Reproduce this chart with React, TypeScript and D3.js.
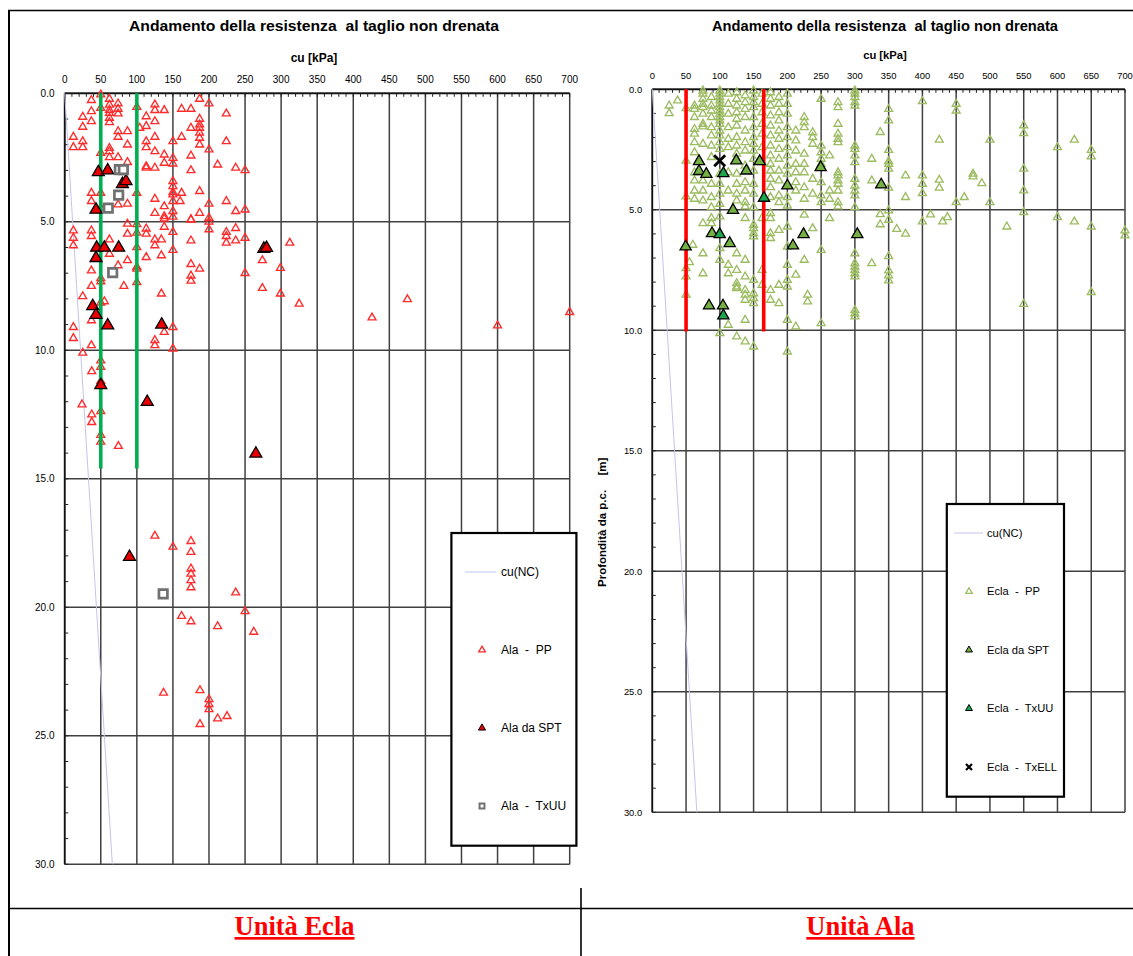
import React from 'react';
import * as d3 from 'd3';

type Pt = [number, number]; // [cu kPa, depth m]

// ---------- axis values ----------
const cuTicks = [0, 50, 100, 150, 200, 250, 300, 350, 400, 450, 500, 550, 600, 650, 700];
const depthTicks = [0, 5, 10, 15, 20, 25, 30];
const depthTickLabels = ['0.0', '5.0', '10.0', '15.0', '20.0', '25.0', '30.0'];

// ---------- common series ----------
const cuNC: Pt[] = [[0, 0], [66, 30]];

// ---------- left chart (Ala) ----------
const alaPP: Pt[] = [
  [12, 1.7], [12, 2.1], [25, 0.92], [25, 1.31], [25, 1.87], [25, 2.1],
  [37, 0.27], [37, 0.7], [37, 1.09], [37, 3.88], [37, 4.2],
  [50, 0.05], [50, 0.57], [50, 2.32], [50, 3.88], [50, 4.46],
  [62, 0.22], [62, 0.45], [62, 0.65], [62, 0.77], [62, 0.96], [62, 1.13], [62, 2.13], [62, 2.26], [62, 2.49],
  [74, 0.4], [74, 0.61], [74, 0.79], [74, 1.48], [74, 1.7], [74, 2.49], [74, 4.33],
  [87, 1.48], [87, 2.0], [87, 2.68], [87, 4.3],
  [100, 0.53], [100, 3.88], [104, 1.35],
  [113, 0.9], [113, 1.28], [113, 1.87], [113, 2.1], [113, 2.84], [113, 2.9],
  [125, 0.44], [125, 0.66], [125, 1.09], [125, 1.7], [125, 2.26], [125, 2.9], [125, 4.11], [125, 4.66],
  [138, 0.66], [138, 2.39], [138, 2.71], [138, 4.4], [138, 4.79],
  [150, 1.87], [150, 2.52], [150, 2.74], [150, 3.42], [150, 3.62], [150, 3.85], [150, 3.94], [150, 4.2], [150, 4.59], [150, 4.81],
  [162, 0.61], [162, 1.7], [162, 3.88], [160, 4.2],
  [175, 0.61], [175, 1.35], [175, 2.43], [175, 3.0], [175, 4.92],
  [187, 0.22], [187, 1.0], [187, 1.22], [187, 1.35], [187, 1.54], [187, 1.74], [187, 2.0], [187, 3.81], [187, 4.66],
  [200, 0.4], [200, 2.19], [200, 4.3], [200, 4.85], [200, 5.0],
  [212, 2.78], [224, 0.79], [224, 1.87], [224, 4.2], [237, 2.9], [237, 4.59], [250, 3.0], [250, 4.53],
  [12, 5.34], [12, 5.63], [12, 5.92], [12, 9.1], [12, 9.53], [25, 7.9], [25, 10.1],
  [37, 5.34], [37, 5.56], [37, 6.9], [37, 7.5], [37, 8.84], [37, 9.81],
  [50, 7.2], [50, 7.32], [50, 8.15], [50, 10.4], [55, 8.1], [62, 5.69], [62, 6.25], [74, 6.7], [82, 7.5],
  [87, 5.08], [87, 5.47], [87, 6.5],
  [100, 5.1], [100, 5.43], [100, 5.99], [100, 6.76], [100, 6.83], [100, 7.35],
  [113, 5.27], [113, 5.47], [113, 6.38], [125, 5.69], [125, 5.92], [125, 9.61], [125, 9.81],
  [134, 5.69], [134, 6.31], [134, 7.8], [138, 4.88], [138, 5.2], [138, 9.29],
  [150, 5.4], [150, 6.1], [150, 9.1], [150, 9.94],
  [175, 4.91], [175, 5.73], [175, 6.65], [175, 7.1], [175, 7.3], [187, 6.83], [200, 5.3],
  [224, 5.4], [224, 5.56], [224, 5.82], [237, 5.25], [237, 5.73], [250, 5.63], [250, 7.0],
  [274, 6.5], [274, 7.58], [299, 6.8], [299, 7.8], [312, 5.82], [325, 8.19],
  [426, 8.73], [475, 8.02], [600, 9.04], [700, 8.52],
  [37.5, 10.82], [50, 10.65], [50, 11.2], [24, 12.11], [37.5, 12.5], [37.5, 12.8], [50, 12.37], [50, 13.3], [50, 13.56], [74.4, 13.73],
  [125, 17.22], [150, 17.65], [175, 17.43], [175, 17.85], [175, 18.5], [175, 18.7], [175, 18.95], [175, 19.23],
  [237, 19.43], [250, 20.16], [162, 20.34], [175, 20.55], [212, 20.74], [262, 20.96],
  [137, 23.33], [187.5, 23.23], [200, 23.58], [200, 23.77], [200, 23.97], [212, 24.33], [225, 24.24], [187.5, 24.55],
];
const alaSPT: Pt[] = [
  [46.6, 3.07], [59.6, 3.0], [80, 3.53], [85, 3.42], [43.4, 4.53],
  [44.3, 6.01], [55, 6.01], [74.8, 6.01], [43.4, 6.41], [38.8, 8.28], [43.4, 8.62], [59.6, 9.03], [134.4, 9.0],
  [276, 6.05], [279.8, 6.02], [50, 11.36], [114.4, 12.01], [265, 14.02], [89.8, 18.04],
];
const alaTxUU: Pt[] = [[75.7, 2.97], [81.3, 2.97], [74.8, 3.96], [60.4, 4.47], [66.5, 6.98], [136.5, 19.48]];
const alaLimits = [50, 100];
const alaLimitDepth = 14.6;

// ---------- right chart (Ecla) ----------
// each entry: [cu kPa, depths read at that cu]
const eclaPPCols: [number, number[]][] = [
  [25, [0.68, 1.0]],
  [37.5, [0.47]],
  [50, [0.79, 2.97, 4.45, 6.46, 7.43, 7.77, 8.53]],
  [55, [7.18]],
  [60, [6.46]],
  [62.5, [0.68, 0.82, 1.16, 1.65, 1.85, 2.2, 2.62, 3.45, 3.79, 4.21, 4.55]],
  [75, [0.06, 0.19, 0.4, 0.61, 0.75, 1.02, 1.44, 1.55, 2.27, 3.79, 4.21, 4.62, 5.56, 6.81, 7.64]],
  [87.5, [0.33, 0.68, 0.89, 1.16, 1.58, 1.92, 2.34, 2.82, 3.93, 4.48, 4.9, 5.35, 5.56]],
  [100, [0.06, 0.19, 0.33, 0.47, 0.61, 0.75, 0.89, 1.02, 1.16, 1.3, 1.44, 1.72, 1.92, 2.2, 2.48, 3.51, 3.93, 4.34, 4.76, 5.28, 6.6, 7.08, 10.12]],
  [112.5, [0.19, 0.61, 1.02, 1.58, 2.06, 2.41, 3.45, 4.21, 7.29, 7.64, 9.78]],
  [125, [0.13, 0.4, 0.68, 0.96, 1.23, 1.51, 1.99, 2.34, 2.68, 3.51, 3.93, 4.34, 4.62, 6.81, 7.5, 8.05, 8.19, 8.26, 10.26]],
  [137.5, [0.26, 0.54, 0.82, 1.16, 1.72, 2.2, 2.55, 3.17, 3.86, 4.21, 4.69, 4.87, 5.35, 7.08, 7.77, 8.33, 8.53, 8.74, 9.57, 10.47]],
  [150, [0.06, 0.33, 0.54, 0.75, 1.16, 1.58, 1.99, 2.27, 2.55, 2.89, 3.38, 3.93, 4.34, 4.9, 5.63, 5.77, 5.98, 6.11, 7.91, 8.47, 8.67, 8.88, 10.68]],
  [162.5, [0.19, 0.61, 0.96, 1.44, 1.85, 2.41, 3.03, 5.35, 7.5, 8.12]],
  [175, [0.13, 0.4, 0.68, 1.09, 1.51, 1.92, 2.34, 2.75, 3.1, 3.38, 3.72, 4.07, 4.48, 5.15, 5.35, 5.98, 6.18, 8.33, 8.74]],
  [187.5, [0.33, 0.61, 0.96, 1.3, 1.72, 2.06, 2.48, 2.89, 3.38, 3.79, 4.41, 4.69, 5.84, 8.12, 8.88]],
  [200, [0.19, 0.61, 1.02, 1.58, 1.99, 2.41, 2.75, 3.17, 3.51, 4.48, 4.83, 5.7, 6.53, 7.29, 7.91, 8.19, 9.57, 10.89]],
  [212.5, [1.72, 2.13, 2.55, 3.1, 3.45, 3.86, 4.21, 7.7, 9.85]],
  [225, [1.16, 1.37, 1.58, 2.68, 3.1, 3.45, 4.07, 4.55, 5.21, 7.08]],
  [230, [8.53, 8.81]],
  [237.5, [1.79, 1.99, 2.27, 3.72, 4.34, 5.77]],
  [250, [0.4, 2.34, 2.62, 2.89, 3.1, 3.86, 4.41, 4.69, 6.67, 9.71]],
  [262.5, [2.75, 4.21, 4.55, 5.35]],
  [275, [0.54, 0.75, 1.44, 1.85, 2.06, 2.2, 3.45, 3.58, 3.79, 3.93, 4.21, 4.69, 4.87]],
  [300, [0.06, 0.19, 0.33, 0.54, 0.68, 2.34, 2.48, 2.75, 3.03, 3.72, 4.0, 4.21, 4.41, 4.9, 6.81, 7.22, 7.36, 7.5, 7.64, 7.77, 9.16, 9.3, 9.43]],
  [325, [2.89, 3.79, 7.22]],
  [337.5, [1.78, 5.19, 5.61]],
  [350, [0.82, 1.3, 2.52, 2.99, 3.1, 3.3, 4.09, 5.03, 5.42, 6.93, 7.52, 7.73, 7.94]],
  [362, [5.8]],
  [375, [3.58, 4.48, 6.0]],
  [400, [0.5, 3.58, 3.93, 4.32, 5.49]],
  [412, [5.2]],
  [425, [2.1, 3.76, 4.09]],
  [430, [5.49]],
  [437, [5.31]],
  [450, [0.61, 0.89, 4.69]],
  [462, [4.48]],
  [475, [3.51, 3.62]],
  [488, [3.9]],
  [500, [2.1, 4.69]],
  [525, [5.7]],
  [550, [1.5, 1.83, 3.3, 4.2, 5.1, 8.91]],
  [600, [2.41, 5.31]],
  [625, [2.1, 5.49]],
  [650, [2.52, 2.79, 5.7, 8.42]],
  [700, [5.86, 6.07]],
];
const eclaPP: Pt[] = eclaPPCols.flatMap(([cu, ds]) => ds.map((d) => [cu, d] as Pt));
const eclaSPT: Pt[] = [
  [69.2, 2.99], [69.2, 3.4], [80, 3.52], [124.4, 2.96], [139.3, 3.38], [159, 2.99], [200, 4.0], [249.3, 3.24],
  [339, 3.96], [119.5, 5.01], [88.4, 5.98], [114.6, 6.39], [49.4, 6.53], [208.3, 6.49], [224, 6.02], [303.6, 6.02],
  [84, 8.98], [104.7, 8.98],
];
const eclaTxUU: Pt[] = [[105.2, 3.49], [165.4, 4.51], [99.8, 6.02], [105.2, 9.39]];
const eclaTxELL: Pt[] = [[99.8, 2.96]];
const eclaLimits = [50, 165];
const eclaLimitDepth = 10.05;

// ---------- drawing ----------
const FONT = "'Liberation Sans', Arial, Helvetica, sans-serif";
const tri = (size: number) => d3.symbol().type(d3.symbolTriangle).size(size)() as string;
const sq = (size: number) => d3.symbol().type(d3.symbolSquare).size(size)() as string;
const cross = (r: number) => `M${-r},${-r}L${r},${r}M${-r},${r}L${r},${-r}`;

type LegendItem = { label: string; kind: 'line' | 'pp' | 'spt' | 'txuu' | 'txell' };

interface PanelProps {
  x0: number; x1: number; y0: number; y1: number; k: number;
  titleX: number; titleW: number; cuLabelY: number;
  pp: Pt[]; ppColor: string; ppSize: number;
  spt: Pt[]; sptFill: string;
  txuu: Pt[]; txuuFill: string; txuuSquare: boolean;
  txell: Pt[];
  limits: number[]; limitDepth: number; limitColor: string;
  legend: { x: number; y: number; w: number; h: number; itemY0: number; step: number; lineX0: number; lineX1: number; symX: number; textX: number; fs: number; items: LegendItem[] };
  yTitle?: boolean;
}

function Panel(p: PanelProps) {
  const { k } = p;
  const x = d3.scaleLinear().domain([0, 700]).range([p.x0, p.x1]);
  const y = d3.scaleLinear().domain([0, 30]).range([p.y0, p.y1]);
  const line = d3.line<Pt>().x((d) => x(d[0])).y((d) => y(d[1]));
  const grid = '#404040';
  const ppPath = tri(p.ppSize);
  const sptPath = tri(62 * k * k);
  const sqPath = sq(72 * k * k);
  const L = p.legend;

  const legendSymbol = (it: LegendItem, cy: number) => {
    if (it.kind === 'line')
      return <line x1={L.lineX0} x2={L.lineX1} y1={cy} y2={cy} stroke="#c4c4ee" strokeWidth={1} />;
    if (it.kind === 'pp')
      return <path d={tri(19 * k)} transform={`translate(${L.symX},${cy})`} fill="none" stroke={p.ppColor} strokeWidth={1.3} />;
    if (it.kind === 'spt')
      return <path d={tri(22 * k)} transform={`translate(${L.symX},${cy})`} fill={p.sptFill} stroke="#000" strokeWidth={1} />;
    if (it.kind === 'txuu')
      return p.txuuSquare
        ? <path d={sq(24)} transform={`translate(${L.symX},${cy})`} fill="#fff" stroke="#707070" strokeWidth={2} />
        : <path d={tri(22 * k)} transform={`translate(${L.symX},${cy})`} fill={p.txuuFill} stroke="#000" strokeWidth={1} />;
    return <path d={cross(3)} transform={`translate(${L.symX},${cy})`} stroke="#000" strokeWidth={2.2} />;
  };

  return (
    <g fontFamily={FONT}>
      <text x={p.titleX} y={31} textAnchor="middle" fontWeight="bold" fontSize={15 * k}
        textLength={p.titleW} lengthAdjust="spacingAndGlyphs" style={{ whiteSpace: 'pre' }} fill="#000">
        Andamento della resistenza  al taglio non drenata
      </text>
      <text x={p.titleX} y={p.cuLabelY} textAnchor="middle" fontWeight="bold" fontSize={12 * k} fill="#000">cu [kPa]</text>

      {/* grid */}
      {cuTicks.map((v) => (
        <line key={'vx' + v} x1={x(v)} x2={x(v)} y1={y(0)} y2={y(30)} stroke={grid} strokeWidth={1.5} />
      ))}
      {depthTicks.map((d) => (
        <line key={'hy' + d} x1={x(0)} x2={x(700)} y1={y(d)} y2={y(d)} stroke={grid} strokeWidth={1.5} />
      ))}
      <line x1={x(0)} x2={x(700)} y1={y(0)} y2={y(0)} stroke="#111" strokeWidth={1.7} />
      <line x1={x(0)} x2={x(0)} y1={y(0)} y2={y(30)} stroke="#111" strokeWidth={1.7} />
      {x.ticks(70).map((v) => (
        <line key={'mx' + v} x1={x(v)} x2={x(v)} y1={y(0)} y2={y(0) + 3.5} stroke="#222" strokeWidth={1} />
      ))}
      {y.ticks(30).map((d) => (
        <line key={'my' + d} x1={x(0)} x2={x(0) + 3.5} y1={y(d)} y2={y(d)} stroke="#222" strokeWidth={1} />
      ))}

      {/* tick labels */}
      {cuTicks.map((v) => (
        <text key={'tx' + v} x={x(v)} y={y(0) - 10.2} textAnchor="middle" fontSize={10 * k} fill="#000">{v}</text>
      ))}
      {depthTicks.map((d, i) => (
        <text key={'ty' + d} x={x(0) - 10.2} y={y(d)} dy="0.35em" textAnchor="end" fontSize={10 * k} fill="#000">{depthTickLabels[i]}</text>
      ))}

      {p.yTitle && (
        <g fontWeight="bold" fontSize={11.5} fill="#000">
          <text transform={`translate(606,587) rotate(-90)`} textAnchor="start">Profondità da p.c.</text>
          <text transform={`translate(606,475.5) rotate(-90)`} textAnchor="start">[m]</text>
        </g>
      )}

      {/* cu(NC) */}
      <path d={line(cuNC) as string} fill="none" stroke="#c4c4ee" strokeWidth={1} />

      {/* PP */}
      {p.pp.map((d, i) => (
        <path key={'pp' + i} d={ppPath} transform={`translate(${x(d[0])},${y(d[1])})`} fill="none" stroke={p.ppColor} strokeWidth={1.35} />
      ))}

      {/* limit lines */}
      {p.limits.map((v) => (
        <line key={'lim' + v} x1={x(v)} x2={x(v)} y1={y(0)} y2={y(p.limitDepth)} stroke={p.limitColor} strokeWidth={3.6} />
      ))}

      {/* SPT */}
      {p.spt.map((d, i) => (
        <path key={'spt' + i} d={sptPath} transform={`translate(${x(d[0])},${y(d[1])})`} fill={p.sptFill} stroke="#000" strokeWidth={1.3} />
      ))}
      {/* TxUU */}
      {p.txuu.map((d, i) =>
        p.txuuSquare ? (
          <path key={'tu' + i} d={sqPath} transform={`translate(${x(d[0])},${y(d[1])})`} fill="#fff" stroke="#707070" strokeWidth={2.7} />
        ) : (
          <path key={'tu' + i} d={sptPath} transform={`translate(${x(d[0])},${y(d[1])})`} fill={p.txuuFill} stroke="#000" strokeWidth={1.3} />
        )
      )}
      {/* TxELL */}
      {p.txell.map((d, i) => (
        <path key={'te' + i} d={cross(5.5)} transform={`translate(${x(d[0])},${y(d[1])})`} stroke="#000" strokeWidth={2.8} />
      ))}

      {/* legend */}
      <rect x={L.x} y={L.y} width={L.w} height={L.h} fill="#fff" stroke="#000" strokeWidth={2.2} />
      {L.items.map((it, i) => {
        const cy = L.itemY0 + i * L.step;
        return (
          <g key={'lg' + i}>
            {legendSymbol(it, cy)}
            <text x={L.textX} y={cy} dy="0.35em" fontSize={L.fs} fill="#000" style={{ whiteSpace: 'pre' }}>{it.label}</text>
          </g>
        );
      })}
    </g>
  );
}

export default function App() {
  return (
    <svg width={1133} height={956} viewBox="0 0 1133 956"
      style={{ position: 'absolute', left: 0, top: 0, display: 'block', background: '#fff' }}>
      <rect x={0} y={0} width={1133} height={956} fill="#fff" />

      <Panel
        x0={64.7} x1={569.7} y0={93.3} y1={864.3} k={1}
        titleX={314} titleW={370} cuLabelY={61.5}
        pp={alaPP} ppColor="#ff2a2a" ppSize={27}
        spt={alaSPT} sptFill="#e80000"
        txuu={alaTxUU} txuuFill="#fff" txuuSquare={true}
        txell={[]}
        limits={alaLimits} limitDepth={alaLimitDepth} limitColor="#00b050"
        legend={{
          x: 451.4, y: 533, w: 125, h: 312.7, itemY0: 572, step: 78,
          lineX0: 465, lineX1: 496, symX: 482, textX: 501, fs: 12,
          items: [
            { label: 'cu(NC)', kind: 'line' },
            { label: 'Ala  -  PP', kind: 'pp' },
            { label: 'Ala da SPT', kind: 'spt' },
            { label: 'Ala  -  TxUU', kind: 'txuu' },
          ],
        }}
      />

      <Panel
        x0={652.3} x1={1125} y0={89.3} y1={812.3} k={0.937}
        titleX={885} titleW={346} cuLabelY={59}
        pp={eclaPP} ppColor="#9cbc62" ppSize={27}
        spt={eclaSPT} sptFill="#74b043"
        txuu={eclaTxUU} txuuFill="#1ea64c" txuuSquare={false}
        txell={eclaTxELL}
        limits={eclaLimits} limitDepth={eclaLimitDepth} limitColor="#ff0000"
        yTitle={true}
        legend={{
          x: 946.8, y: 504, w: 117.2, h: 292.7, itemY0: 533, step: 58.5,
          lineX0: 954, lineX1: 983, symX: 969, textX: 987, fs: 11.2,
          items: [
            { label: 'cu(NC)', kind: 'line' },
            { label: 'Ecla  -  PP', kind: 'pp' },
            { label: 'Ecla da SPT', kind: 'spt' },
            { label: 'Ecla  -  TxUU', kind: 'txuu' },
            { label: 'Ecla  -  TxELL', kind: 'txell' },
          ],
        }}
      />

      {/* table frame */}
      <line x1={8} y1={10.5} x2={1133} y2={10.5} stroke="#000" strokeWidth={1.6} />
      <line x1={9} y1={10} x2={9} y2={956} stroke="#000" strokeWidth={2} />
      <line x1={9} y1={908.5} x2={1133} y2={908.5} stroke="#000" strokeWidth={1.6} />
      <line x1={581} y1={888} x2={581} y2={956} stroke="#000" strokeWidth={1.6} />

      {/* captions */}
      <g fontFamily="'Liberation Serif', 'Times New Roman', serif" fontWeight="bold" fontSize={26.5} fill="#ff0000">
        <text x={294.5} y={935} textAnchor="middle" style={{ textDecoration: 'underline' }}>Unità Ecla</text>
        <text x={860.4} y={935} textAnchor="middle" style={{ textDecoration: 'underline' }}>Unità Ala</text>
      </g>
    </svg>
  );
}
